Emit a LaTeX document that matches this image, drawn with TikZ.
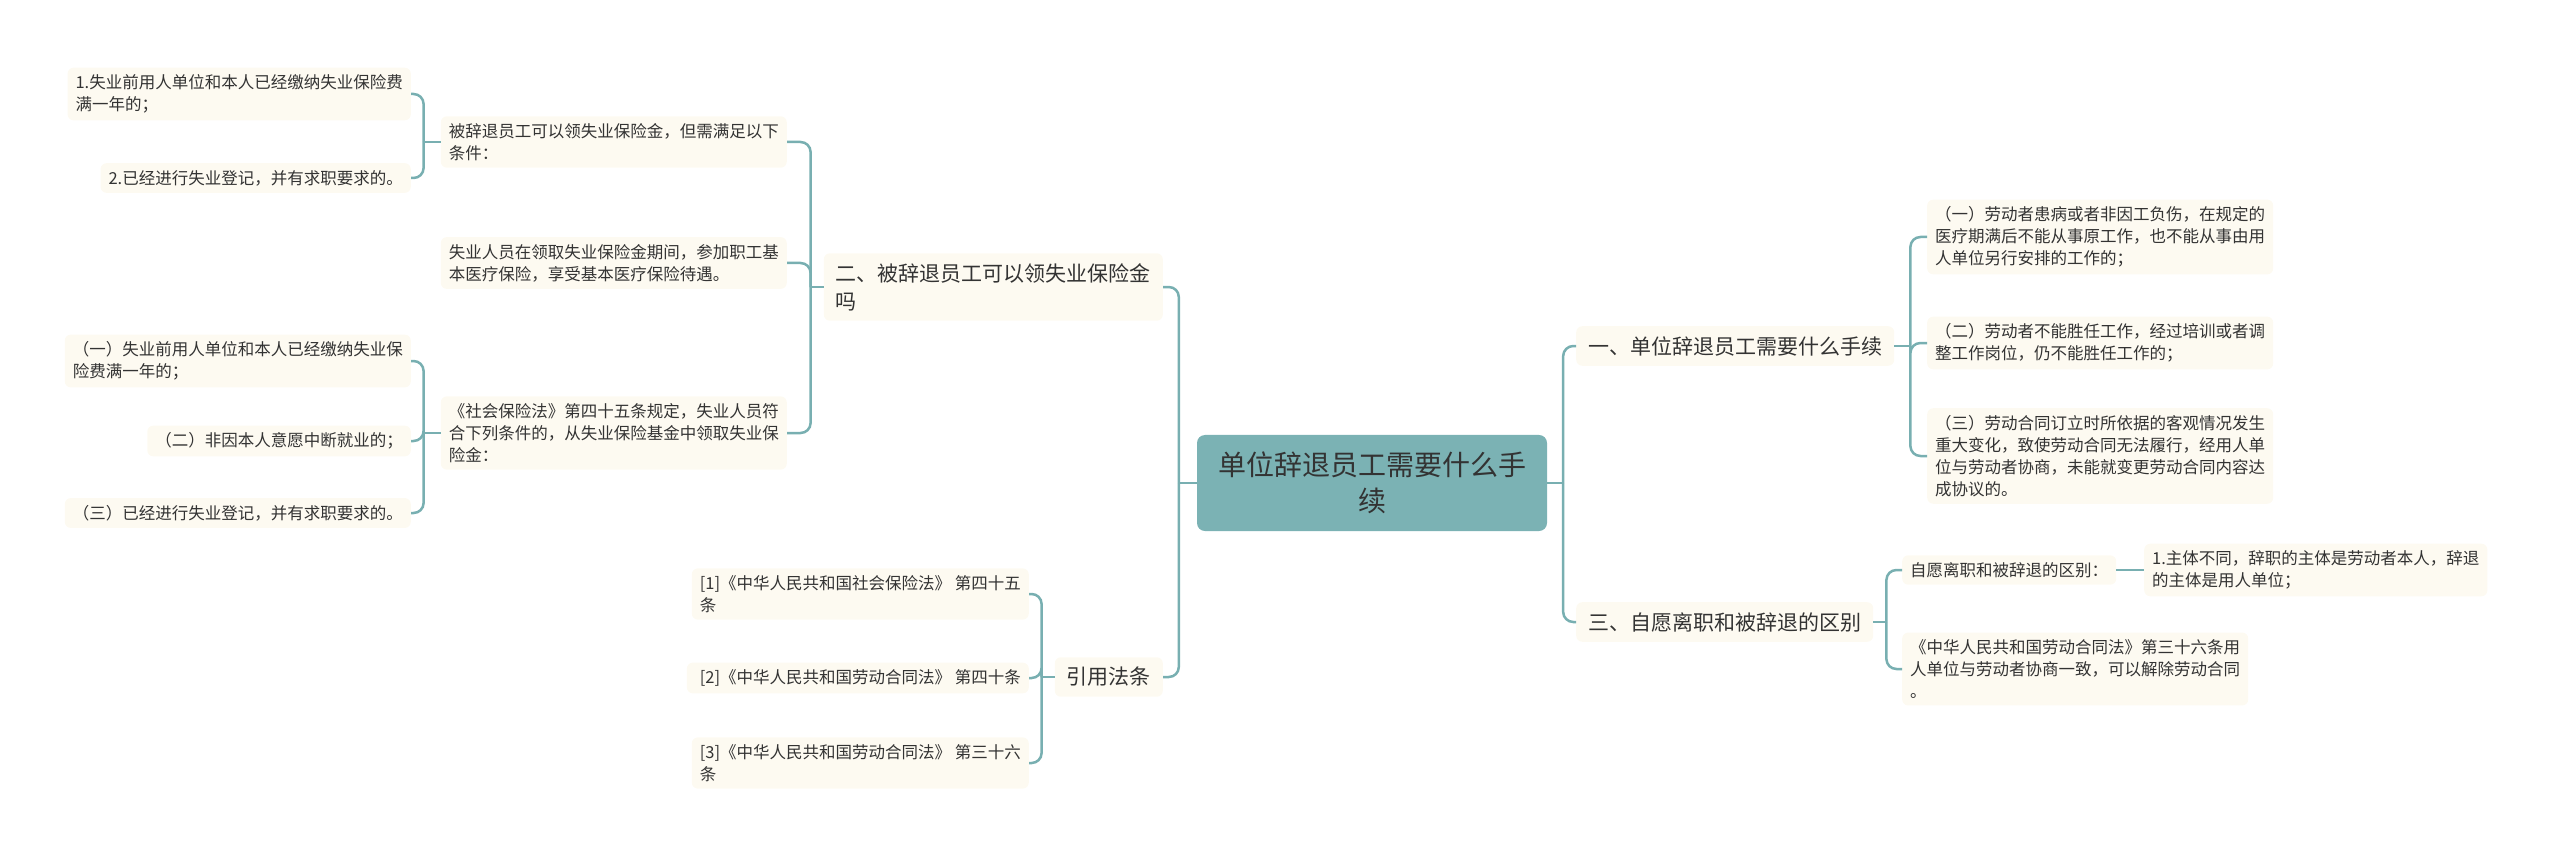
\documentclass[tikz,border=0pt]{standalone}
\usepackage{fontspec}
\setmainfont{Noto Sans CJK SC}
\usetikzlibrary{calc}
\definecolor{rootteal}{HTML}{7BB2B4}
\definecolor{linkteal}{HTML}{78AFB1}
\definecolor{paper}{HTML}{FDFAF1}
\definecolor{ink}{HTML}{333333}

\begin{document}
\begin{tikzpicture}[x=1pt, y=-1pt,
	every node/.style={text=ink, fill=paper, align=left, inner xsep=8pt, inner ysep=7pt, rounded corners=6pt},
	rootbox/.style={fill=rootteal, align=center, font=\fontsize{28}{36}\selectfont, inner xsep=21pt, inner ysep=17pt, rounded corners=8pt},
	branch/.style={font=\fontsize{21}{28}\selectfont, inner xsep=12pt, inner ysep=10pt},
	leaf/.style={font=\fontsize{16.5}{22}\selectfont},
	link/.style={draw=linkteal, line width=2.5pt, rounded corners=10pt}]
		\useasboundingbox (0,0) rectangle (2560,861);
		\node[rootbox] (root) at (1372,483) {单位辞退员工需要什么手\\续};
		\node[branch, anchor=west] (b1) at (1576,346) {一、单位辞退员工需要什么手续};
		\node[branch, anchor=east] (b2) at (1163,287) {二、被辞退员工可以领失业保险金\\吗};
		\node[branch, anchor=west] (b3) at (1576,622) {三、自愿离职和被辞退的区别};
		\node[branch, anchor=east] (b4) at (1163,677) {引用法条};
		\node[leaf, anchor=west] (b1a) at (1927,237) {（一）劳动者患病或者非因工负伤，在规定的\\医疗期满后不能从事原工作，也不能从事由用\\人单位另行安排的工作的；};
		\node[leaf, anchor=west] (b1b) at (1927,343) {（二）劳动者不能胜任工作，经过培训或者调\\整工作岗位，仍不能胜任工作的；};
		\node[leaf, anchor=west] (b1c) at (1927,456) {（三）劳动合同订立时所依据的客观情况发生\\重大变化，致使劳动合同无法履行，经用人单\\位与劳动者协商，未能就变更劳动合同内容达\\成协议的。};
		\node[leaf, anchor=west] (b3a) at (1902,570) {自愿离职和被辞退的区别：};
		\node[leaf, anchor=west] (b3a1) at (2144,570) {1.主体不同，辞职的主体是劳动者本人，辞退\\的主体是用人单位；};
		\node[leaf, anchor=west] (b3b) at (1902,669) {《中华人民共和国劳动合同法》第三十六条用\\人单位与劳动者协商一致，可以解除劳动合同\\。};
		\node[leaf, anchor=east] (b2a) at (787,142) {被辞退员工可以领失业保险金，但需满足以下\\条件：};
		\node[leaf, anchor=east] (b2a1) at (411,94) {1.失业前用人单位和本人已经缴纳失业保险费\\满一年的；};
		\node[leaf, anchor=east] (b2a2) at (411,178) {2.已经进行失业登记，并有求职要求的。};
		\node[leaf, anchor=east] (b2b) at (787,263) {失业人员在领取失业保险金期间，参加职工基\\本医疗保险，享受基本医疗保险待遇。};
		\node[leaf, anchor=east] (b2c) at (787,433) {《社会保险法》第四十五条规定，失业人员符\\合下列条件的，从失业保险基金中领取失业保\\险金：};
		\node[leaf, anchor=east] (b2c1) at (411,361) {（一）失业前用人单位和本人已经缴纳失业保\\险费满一年的；};
		\node[leaf, anchor=east] (b2c2) at (411,441) {（二）非因本人意愿中断就业的；};
		\node[leaf, anchor=east] (b2c3) at (411,513) {（三）已经进行失业登记，并有求职要求的。};
		\node[leaf, anchor=east] (b4a) at (1029,594) {[1]《中华人民共和国社会保险法》 第四十五\\条};
		\node[leaf, anchor=east] (b4b) at (1029,678) {\hspace*{0.3em}[2]《中华人民共和国劳动合同法》 第四十条};
		\node[leaf, anchor=east] (b4c) at (1029,763) {[3]《中华人民共和国劳动合同法》 第三十六\\条};
		\draw[link] (root.east) -- ++(16,0) coordinate (rj);
		\draw[link] (rj) |- (b1.west);
		\draw[link] (rj) |- (b3.west);
		\draw[link] (root.west) -- ++(-18,0) coordinate (lj);
		\draw[link] (lj) |- (b2.east);
		\draw[link] (lj) |- (b4.east);
		\draw[link] (b1.east) -- ++(16,0) coordinate (b1j);
		\draw[link] (b1j) |- (b1a.west);
		\draw[link] (b1j) |- (b1b.west);
		\draw[link] (b1j) |- (b1c.west);
		\draw[link] (b3.east) -- ++(13,0) coordinate (b3j);
		\draw[link] (b3j) |- (b3a.west);
		\draw[link] (b3j) |- (b3b.west);
		\draw[link] (b3a.east) -- (b3a1.west);
		\draw[link] (b2.west) -- ++(-13,0) coordinate (b2j);
		\draw[link] (b2j) |- (b2a.east);
		\draw[link] (b2j) |- (b2b.east);
		\draw[link] (b2j) |- (b2c.east);
		\draw[link] (b2a.west) -- ++(-17,0) coordinate (b2aj);
		\draw[link] (b2aj) |- (b2a1.east);
		\draw[link] (b2aj) |- (b2a2.east);
		\draw[link] (b2c.west) -- ++(-17,0) coordinate (b2cj);
		\draw[link] (b2cj) |- (b2c1.east);
		\draw[link] (b2cj) |- (b2c2.east);
		\draw[link] (b2cj) |- (b2c3.east);
		\draw[link] (b4.west) -- ++(-13,0) coordinate (b4j);
		\draw[link] (b4j) |- (b4a.east);
		\draw[link] (b4j) |- (b4b.east);
		\draw[link] (b4j) |- (b4c.east);
	\end{tikzpicture}
\end{document}
